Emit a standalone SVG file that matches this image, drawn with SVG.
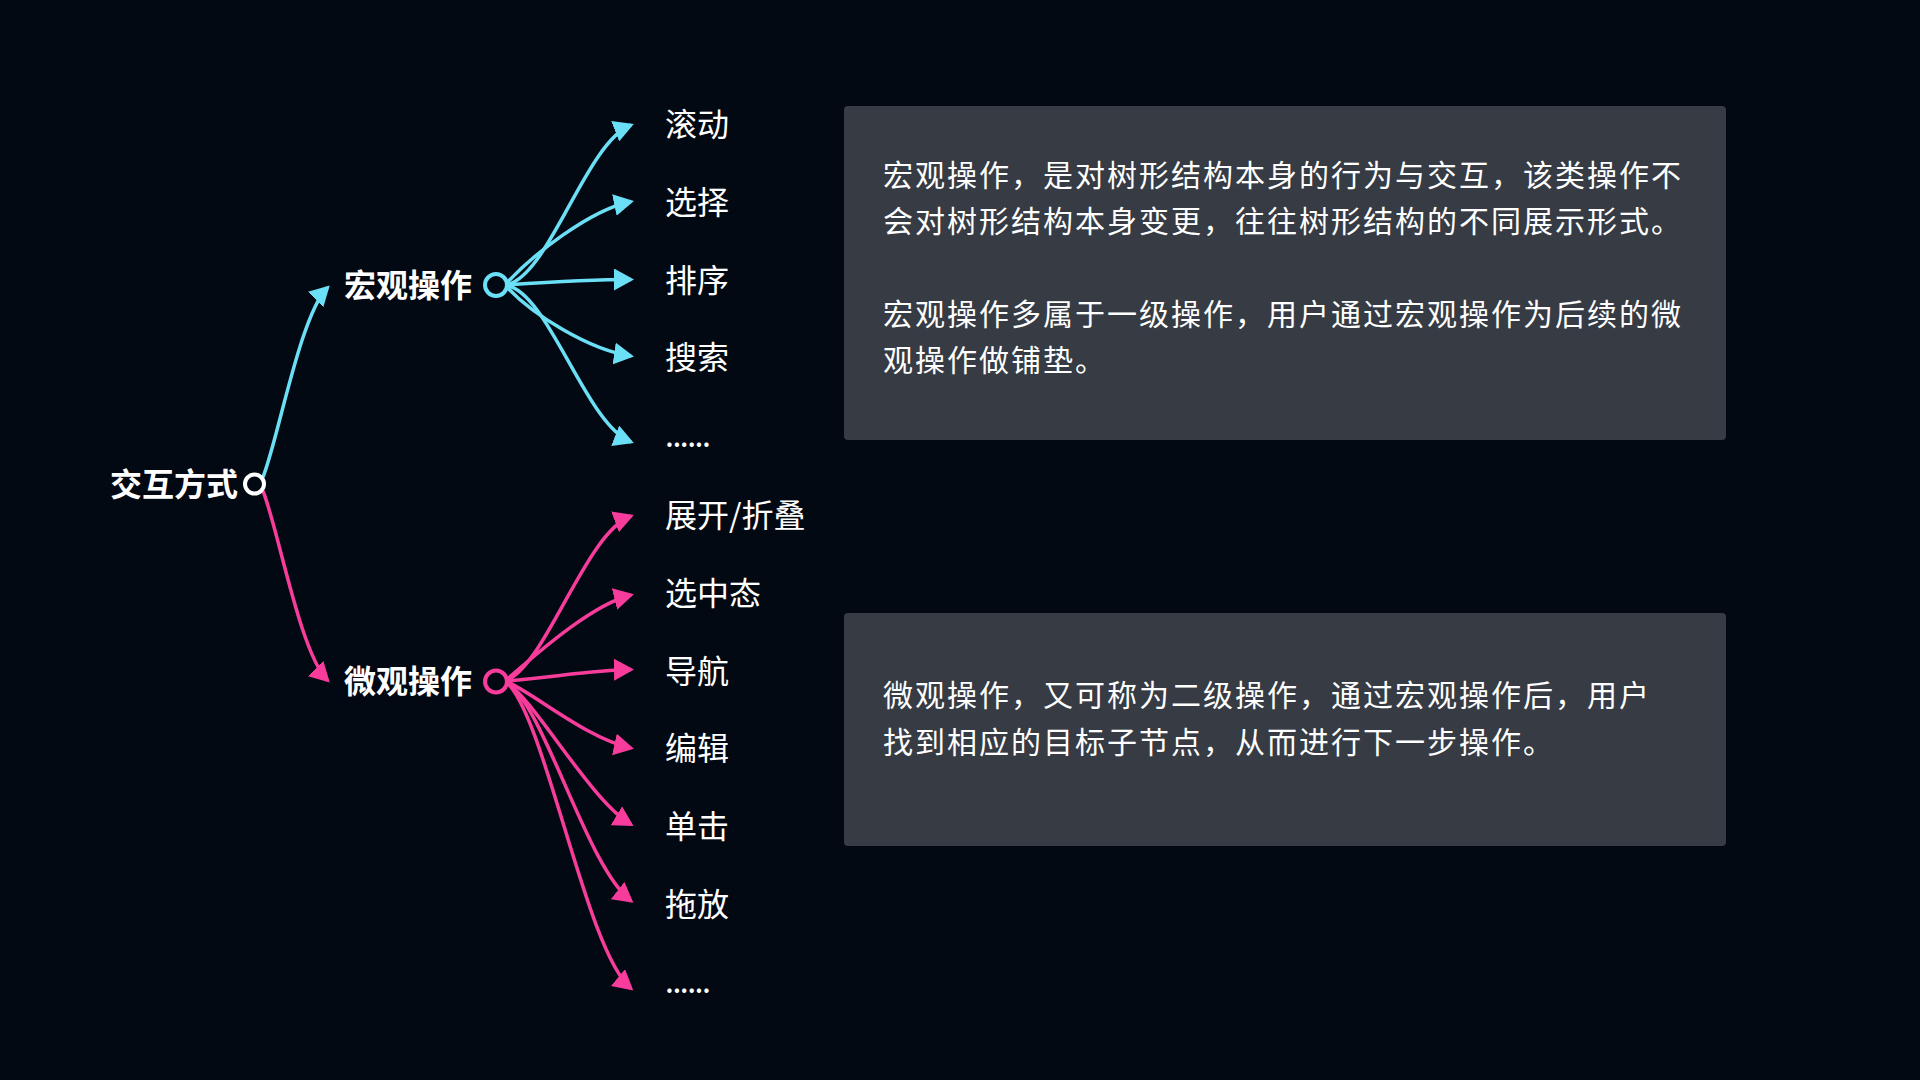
<svg xmlns="http://www.w3.org/2000/svg" width="1920" height="1080" viewBox="0 0 1920 1080">
<style>
  .lbl { font-family: "Noto Sans CJK SC", "Noto Sans", sans-serif; fill: #FFFFFF; font-size: 32px; }
  .bold { font-weight: 700; }
  .dots { letter-spacing: -1.5px; }
  .desc { font-family: "Noto Sans CJK SC", "Noto Sans", sans-serif; fill: #FFFFFF; font-size: 30px; letter-spacing: 2px; }
  .box { fill: #363B44; }
  .ec { fill: none; stroke: #6BDFF5; stroke-width: 3.5; marker-end: url(#ah-c); }
  .ep { fill: none; stroke: #F83C9B; stroke-width: 3.5; marker-end: url(#ah-p); }
</style>
<defs>
  <marker id="ah-c" markerUnits="userSpaceOnUse" markerWidth="20" markerHeight="22" viewBox="0 0 20 22" refX="17" refY="11" orient="auto">
    <path d="M0,0 L20,11 L0,22 Z" fill="#6BDFF5"/>
  </marker>
  <marker id="ah-p" markerUnits="userSpaceOnUse" markerWidth="20" markerHeight="22" viewBox="0 0 20 22" refX="17" refY="11" orient="auto">
    <path d="M0,0 L20,11 L0,22 Z" fill="#F83C9B"/>
  </marker>
</defs>
<rect x="0" y="0" width="1920" height="1080" fill="#030912"/>

<g id="connectors">
  <!-- root to level 1 -->
  <path class="ec" d="M263,477 C278,440 300,315 327.6,287.5"/>
  <path class="ep" d="M263,491 C278,528 300,653 327.6,680.5"/>
  <!-- macro children -->
  <path class="ec" d="M505,285 C548,280 585,143 631,125"/>
  <path class="ec" d="M505,285 C532,255 590,210 631,201.5"/>
  <path class="ec" d="M505,285 C550,282 590,279.5 631,279.5"/>
  <path class="ec" d="M505,285 C532,315 590,350 631,356"/>
  <path class="ec" d="M505,285 C548,290 585,424 631,442"/>
  <!-- micro children -->
  <path class="ep" d="M505,681 C545,668 585,533 631,516"/>
  <path class="ep" d="M505,681 C532,658 590,605 631,595"/>
  <path class="ep" d="M505,681 C550,678 590,670 631,669.5"/>
  <path class="ep" d="M505,681 C530,690 585,738 631,748"/>
  <path class="ep" d="M505,681 C535,700 590,800 631,824.5"/>
  <path class="ep" d="M505,681 C545,705 585,865 631,901"/>
  <path class="ep" d="M505,681 C545,712 585,950 631,988.5"/>
</g>

<g id="node-root">
  <text class="lbl bold" x="110" y="495.5">交互方式</text>
  <circle cx="254.5" cy="484" r="9.5" fill="#030912" stroke="#FFFFFF" stroke-width="4"/>
</g>
<g id="node-macro">
  <text class="lbl bold" x="344" y="297">宏观操作</text>
  <circle cx="496" cy="285" r="11" fill="#030912" stroke="#6BDFF5" stroke-width="4"/>
</g>
<g id="node-micro">
  <text class="lbl bold" x="344" y="693">微观操作</text>
  <circle cx="496" cy="681.5" r="11" fill="#030912" stroke="#F83C9B" stroke-width="4"/>
</g>

<g id="node-scroll"><text class="lbl" x="665" y="136">滚动</text></g>
<g id="node-select"><text class="lbl" x="665" y="213.5">选择</text></g>
<g id="node-sort"><text class="lbl" x="665" y="291.5">排序</text></g>
<g id="node-search"><text class="lbl" x="665" y="368.5">搜索</text></g>
<g id="node-macro-more"><text class="lbl dots" x="665" y="447">......</text></g>

<g id="node-expand"><text class="lbl" x="665" y="526.5">展开/折叠</text></g>
<g id="node-selected"><text class="lbl" x="665" y="605">选中态</text></g>
<g id="node-nav"><text class="lbl" x="665" y="682.5">导航</text></g>
<g id="node-edit"><text class="lbl" x="665" y="760">编辑</text></g>
<g id="node-click"><text class="lbl" x="665" y="838">单击</text></g>
<g id="node-drag"><text class="lbl" x="665" y="915.5">拖放</text></g>
<g id="node-micro-more"><text class="lbl dots" x="665" y="993">......</text></g>

<g id="note-macro">
  <rect class="box" x="844" y="106" width="882" height="334" rx="4"/>
  <text class="desc" x="883" y="185.5">宏观操作，是对树形结构本身的行为与交互，该类操作不</text>
  <text class="desc" x="883" y="232">会对树形结构本身变更，往往树形结构的不同展示形式。</text>
  <text class="desc" x="883" y="324.5">宏观操作多属于一级操作，用户通过宏观操作为后续的微</text>
  <text class="desc" x="883" y="371">观操作做铺垫。</text>
</g>
<g id="note-micro">
  <rect class="box" x="844" y="613" width="882" height="233" rx="4"/>
  <text class="desc" x="883" y="706">微观操作，又可称为二级操作，通过宏观操作后，用户</text>
  <text class="desc" x="883" y="752.5">找到相应的目标子节点，从而进行下一步操作。</text>
</g>
</svg>
